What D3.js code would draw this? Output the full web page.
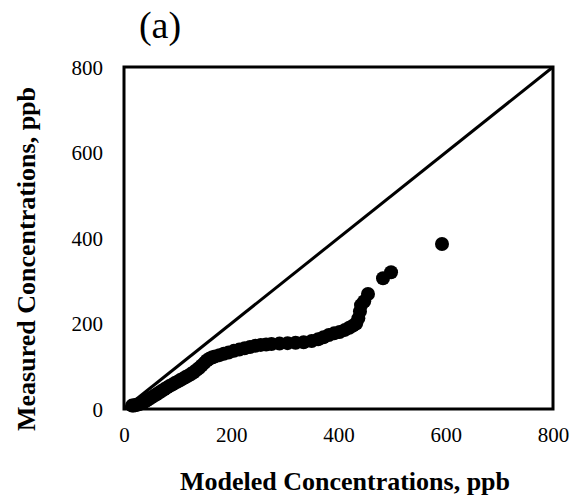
<!DOCTYPE html>
<html>
<head>
<meta charset="utf-8">
<script src="https://cdn.jsdelivr.net/npm/d3@7"></script>
<style>
  html, body { margin: 0; padding: 0; background: #fff; }
  svg { display: block; }
  text { font-family: "Liberation Serif", "Times New Roman", serif; fill: #000; }
</style>
</head>
<body>
<svg id="chart" width="572" height="502"></svg>
<script>
// Data
const modeled = [15, 18, 21, 24, 27, 30, 34, 38, 42, 46, 50, 55, 60, 65, 70, 75, 80, 85, 90, 95,
  100, 105, 110, 115, 120, 125, 130, 135, 140, 145, 150, 155, 160, 165, 170, 178, 186, 195, 205, 215,
  225, 235, 245, 255, 265, 275, 290, 305, 320, 335, 350, 362, 372, 382, 392, 402, 412, 420, 427, 433,
  437, 440, 442, 448, 455, 483, 498, 593];
const measured = [8, 8, 9, 10, 11, 12, 14, 17, 20, 23, 26, 30, 34, 38, 42, 46, 50, 54, 57, 61,
  64, 68, 71, 75, 78, 82, 86, 91, 96, 102, 108, 114, 118, 121, 123, 126, 129, 132, 136, 139,
  142, 145, 148, 150, 151, 152, 153, 154, 155, 156, 159, 163, 168, 173, 177, 180, 185, 190, 195, 200,
  212, 228, 243, 252, 269, 306, 320, 386];
const xTicks = [0, 200, 400, 600, 800];
const yTicks = [0, 200, 400, 600, 800];
const oneToOne = [0, 800];
const titleText = "(a)";
const xTitle = "Modeled Concentrations, ppb";
const yTitle = "Measured Concentrations, ppb";

const svg = d3.select("#chart");
const plot = { left: 124, right: 553, top: 67, bottom: 409 };

const x = d3.scaleLinear().domain([0, 800]).range([plot.left, plot.right]);
const y = d3.scaleLinear().domain([0, 800]).range([plot.bottom, plot.top]);

// 1:1 line
svg.append("line")
  .attr("x1", x(oneToOne[0])).attr("y1", y(oneToOne[0]))
  .attr("x2", x(oneToOne[1])).attr("y2", y(oneToOne[1]))
  .attr("stroke", "#000").attr("stroke-width", 3);

// points
const pts = modeled.map((m, i) => ({ m, v: measured[i] }));
svg.append("g").selectAll("circle").data(pts).join("circle")
  .attr("cx", d => x(d.m)).attr("cy", d => y(d.v)).attr("r", 7)
  .attr("fill", "#000");

// frame
svg.append("rect")
  .attr("x", plot.left).attr("y", plot.top)
  .attr("width", plot.right - plot.left).attr("height", plot.bottom - plot.top)
  .attr("fill", "none").attr("stroke", "#000").attr("stroke-width", 3);

// axes (labels only)
const xAxis = d3.axisBottom(x).tickValues(xTicks).tickSize(0).tickPadding(0).tickFormat(d3.format("d"));
const gx = svg.append("g").attr("transform", `translate(0, 442)`).call(xAxis);
gx.select(".domain").remove();
gx.selectAll("text").attr("dy", 0).attr("y", 0)
  .style("font-size", "21px").style("font-family", '"Liberation Serif", "Times New Roman", serif');

const yAxis = d3.axisLeft(y).tickValues(yTicks).tickSize(0).tickPadding(0).tickFormat(d3.format("d"));
const gy = svg.append("g").attr("transform", `translate(103, 0)`).call(yAxis);
gy.select(".domain").remove();
gy.selectAll("text").attr("x", 0).attr("dy", "0.35em")
  .style("font-size", "21px").style("font-family", '"Liberation Serif", "Times New Roman", serif');

// title
svg.append("text").attr("x", 160).attr("y", 38).attr("text-anchor", "middle")
  .style("font-size", "38px").text(titleText);

// axis titles
svg.append("text").attr("x", 345).attr("y", 490).attr("text-anchor", "middle")
  .style("font-size", "26px").style("font-weight", "bold").text(xTitle);

svg.append("text").attr("transform", "translate(35, 259) rotate(-90)").attr("text-anchor", "middle")
  .style("font-size", "26px").style("font-weight", "bold").text(yTitle);
</script>
</body>
</html>
